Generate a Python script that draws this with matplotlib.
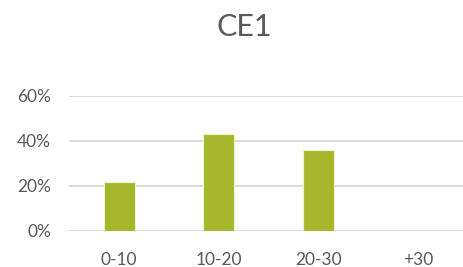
import matplotlib
matplotlib.use("Agg")
import matplotlib.pyplot as plt
from matplotlib.ticker import PercentFormatter

categories = ["0-10", "10-20", "20-30", "+30"]
values = [3/14, 6/14, 5/14, 0.0]
yticks = [0.0, 0.2, 0.4, 0.6]
title = "CE1"

plt.rcParams['font.family'] = ['Lato', 'DejaVu Sans']
text_color = '#595959'

fig = plt.figure(figsize=(4.63, 2.67), dpi=100)
ax = fig.add_axes([69.3/463, 36.3/267, (467.8-69.3)/463, (230.7-95.7)/267])
x = range(len(categories))
ax.bar(x, values, width=0.31, color='#A6B82A', edgecolor='#EEF2D0', linewidth=0.8, zorder=3)
ax.set_xlim(-0.5, len(categories) - 0.5)
ax.set_ylim(0, 0.6)
ax.set_yticks(yticks)
ax.yaxis.set_major_formatter(PercentFormatter(1.0, decimals=0))
ax.set_xticks(list(x))
ax.set_xticklabels(categories)
ax.grid(axis='y', color='#D9D9D9', linewidth=1.3, zorder=0)
ax.set_axisbelow(True)
for s in ax.spines.values():
    s.set_visible(False)
ax.tick_params(axis='both', length=0, labelsize=12.5, labelcolor=text_color)
ax.tick_params(axis='x', pad=15)
ax.tick_params(axis='y', pad=13)
fig.text(244/463, 1 - 27/267, title, ha='center', va='center', fontsize=22, color=text_color)
fig.savefig("out.png", dpi=100)
